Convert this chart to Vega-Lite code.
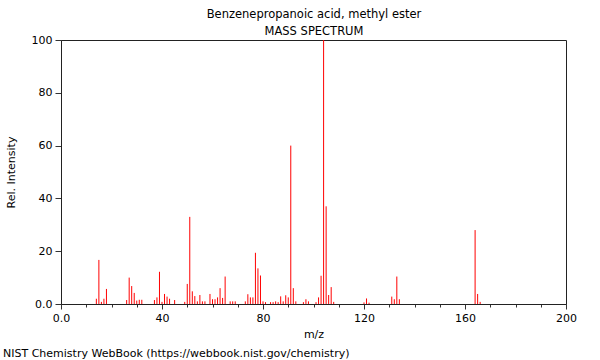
{
  "$schema": "https://vega.github.io/schema/vega-lite/v6.json",
  "width": 505,
  "height": 264,
  "autosize": {"type": "none"},
  "padding": {"left": 61, "top": 40, "right": 34, "bottom": 56},
  "background": "white",
  "config": {
    "view": {"stroke": "#222", "strokeWidth": 1},
    "font": "DejaVu Sans"
  },
  "title": {
    "text": "NIST Chemistry WebBook (https://webbook.nist.gov/chemistry)",
    "orient": "bottom",
    "anchor": "start",
    "frame": "group",
    "dx": -58,
    "offset": 9,
    "font": "DejaVu Sans",
    "fontSize": 11,
    "fontWeight": "normal",
    "color": "#000"
  },
  "data": {
    "values": [
      {"mz": 14, "intensity": 2.0},
      {"mz": 15, "intensity": 16.7},
      {"mz": 16, "intensity": 0.8},
      {"mz": 17, "intensity": 2.0},
      {"mz": 18, "intensity": 5.7},
      {"mz": 26, "intensity": 1.5},
      {"mz": 27, "intensity": 10.0},
      {"mz": 28, "intensity": 6.8},
      {"mz": 29, "intensity": 4.2},
      {"mz": 30, "intensity": 1.3},
      {"mz": 31, "intensity": 1.6},
      {"mz": 32, "intensity": 1.6},
      {"mz": 37, "intensity": 1.5},
      {"mz": 38, "intensity": 2.5},
      {"mz": 39, "intensity": 12.2},
      {"mz": 40, "intensity": 0.8},
      {"mz": 41, "intensity": 3.8},
      {"mz": 42, "intensity": 2.8},
      {"mz": 43, "intensity": 2.0},
      {"mz": 45, "intensity": 1.5},
      {"mz": 49, "intensity": 0.8},
      {"mz": 50, "intensity": 7.6},
      {"mz": 51, "intensity": 33.0},
      {"mz": 52, "intensity": 4.8},
      {"mz": 53, "intensity": 3.0},
      {"mz": 54, "intensity": 1.0},
      {"mz": 55, "intensity": 3.4},
      {"mz": 56, "intensity": 1.0},
      {"mz": 57, "intensity": 1.0},
      {"mz": 59, "intensity": 3.8},
      {"mz": 60, "intensity": 1.8},
      {"mz": 61, "intensity": 1.8},
      {"mz": 62, "intensity": 2.5},
      {"mz": 63, "intensity": 6.0},
      {"mz": 64, "intensity": 2.3},
      {"mz": 65, "intensity": 10.4},
      {"mz": 67, "intensity": 1.0},
      {"mz": 68, "intensity": 1.0},
      {"mz": 69, "intensity": 1.0},
      {"mz": 73, "intensity": 1.0},
      {"mz": 74, "intensity": 3.7},
      {"mz": 75, "intensity": 2.5},
      {"mz": 76, "intensity": 2.5},
      {"mz": 77, "intensity": 19.4},
      {"mz": 78, "intensity": 13.5},
      {"mz": 79, "intensity": 10.8},
      {"mz": 80, "intensity": 1.0},
      {"mz": 81, "intensity": 0.7},
      {"mz": 83, "intensity": 0.7},
      {"mz": 84, "intensity": 0.7},
      {"mz": 85, "intensity": 1.0},
      {"mz": 86, "intensity": 0.7},
      {"mz": 87, "intensity": 2.9},
      {"mz": 88, "intensity": 1.0},
      {"mz": 89, "intensity": 3.3},
      {"mz": 90, "intensity": 2.5},
      {"mz": 91, "intensity": 60.0},
      {"mz": 92, "intensity": 6.0},
      {"mz": 93, "intensity": 1.0},
      {"mz": 96, "intensity": 0.7},
      {"mz": 97, "intensity": 1.8},
      {"mz": 98, "intensity": 1.0},
      {"mz": 101, "intensity": 0.7},
      {"mz": 102, "intensity": 2.5},
      {"mz": 103, "intensity": 10.7},
      {"mz": 104, "intensity": 100.0},
      {"mz": 105, "intensity": 37.0},
      {"mz": 106, "intensity": 3.4},
      {"mz": 107, "intensity": 6.4},
      {"mz": 108, "intensity": 0.8},
      {"mz": 120, "intensity": 0.6},
      {"mz": 121, "intensity": 2.1},
      {"mz": 122, "intensity": 0.5},
      {"mz": 131, "intensity": 2.8},
      {"mz": 132, "intensity": 1.8},
      {"mz": 133, "intensity": 10.4},
      {"mz": 134, "intensity": 1.8},
      {"mz": 164, "intensity": 28.0},
      {"mz": 165, "intensity": 3.8},
      {"mz": 166, "intensity": 0.8}
    ]
  },
  "layer": [
    {
      "mark": {"type": "rule", "color": "#ff0000", "strokeWidth": 1},
      "encoding": {
        "x": {
          "field": "mz",
          "type": "quantitative",
          "scale": {"domain": [0, 200], "nice": false, "zero": false},
          "axis": {
            "title": "m/z",
            "orient": "bottom",
            "values": [0, 10, 20, 30, 40, 50, 60, 70, 80, 90, 100, 110, 120, 130, 140, 150, 160, 170, 180, 190, 200],
            "labelExpr": "datum.value % 40 === 0 ? (datum.value === 0 ? '0.0' : datum.label) : ''",
            "labelOverlap": false,
            "labelFlush": false,
            "tickSize": {"condition": {"test": "datum.value % 40 === 0", "value": 5}, "value": 3},
            "tickColor": "#333",
            "domainColor": "#222",
            "grid": false,
            "labelFont": "DejaVu Sans",
            "labelFontSize": 11,
            "labelColor": "#000",
            "labelPadding": 3,
            "titleFont": "DejaVu Sans",
            "titleFontSize": 11,
            "titleFontWeight": "normal",
            "titleColor": "#000",
            "titlePadding": 5
          }
        },
        "y": {
          "field": "intensity",
          "type": "quantitative",
          "scale": {"domain": [0, 100], "nice": false},
          "axis": {
            "title": "Rel. Intensity",
            "values": [0, 5, 10, 15, 20, 25, 30, 35, 40, 45, 50, 55, 60, 65, 70, 75, 80, 85, 90, 95, 100],
            "labelExpr": "datum.value % 20 === 0 ? (datum.value === 0 ? '0.0' : datum.label) : ''",
            "labelOverlap": false,
            "labelFlush": false,
            "tickSize": {"condition": {"test": "datum.value % 20 === 0", "value": 6}, "value": 3},
            "tickColor": "#333",
            "domainColor": "#222",
            "grid": false,
            "labelFont": "DejaVu Sans",
            "labelFontSize": 11,
            "labelColor": "#000",
            "labelPadding": 3,
            "titleFont": "DejaVu Sans",
            "titleFontSize": 11,
            "titleFontWeight": "normal",
            "titleColor": "#000",
            "titlePadding": 15
          }
        },
        "y2": {"datum": 0}
      }
    },
    {
      "mark": {"type": "point", "opacity": 0, "size": 1},
      "encoding": {
        "x": {
          "field": "mz",
          "type": "quantitative",
          "axis": {
            "orient": "top",
            "title": ["Benzenepropanoic acid, methyl ester", "MASS SPECTRUM"],
            "domain": false,
            "ticks": false,
            "labels": false,
            "grid": false,
            "titleFont": "DejaVu Sans",
            "titleFontSize": 11.5,
            "titleFontWeight": "normal",
            "titleColor": "#000",
            "titleLineHeight": 17,
            "titlePadding": 4
          }
        },
        "y": {"field": "intensity", "type": "quantitative"}
      }
    }
  ],
  "resolve": {"axis": {"x": "independent"}}
}
